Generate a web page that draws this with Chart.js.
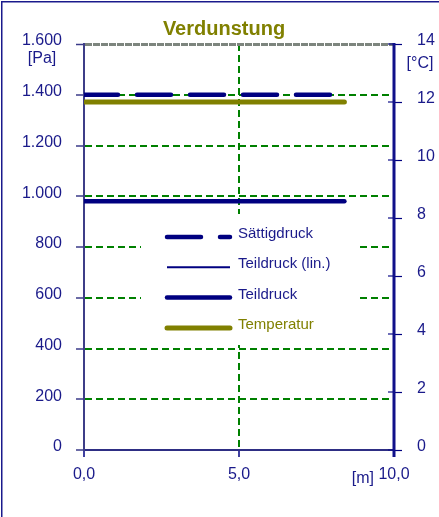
<!DOCTYPE html>
<html>
<head>
<meta charset="utf-8">
<script src="https://cdn.jsdelivr.net/npm/chart.js@4/dist/chart.umd.min.js"></script>
<style>
  html, body { margin: 0; padding: 0; background: #ffffff; }
  #wrap { position: relative; width: 439px; height: 517px; }
</style>
</head>
<body>
<div id="wrap"><canvas id="c" width="439" height="517"></canvas></div>
<script>
// Distance along the wall [m]
const positions = [0, 8.4];
// Pressures [Pa]
const saturationPressure = [1400, 1400];
const partialPressureLin = [980, 980];
const partialPressure = [980, 980];
// Temperature [°C]
const temperature = [12, 12];

const seriesNames = ['Sättigdruck', 'Teildruck (lin.)', 'Teildruck', 'Temperatur'];
const pressureTickLabels = ['0', '200', '400', '600', '800', '1.000', '1.200', '1.400', '1.600'];
const temperatureTickLabels = ['0', '2', '4', '6', '8', '10', '12', '14'];
const distanceTickLabels = ['0,0', '5,0', '10,0'];
const chartTitle = 'Verdunstung';
const unitLabels = { pressure: '[Pa]', temperature: '[°C]', distance: '[m]' };

const NAVY = '#000080';
const NAVY_TEXT = '#1a1a8a';
const OLIVE = '#808000';
const GREEN = '#008000';
const FONT = "'Liberation Sans', Arial, sans-serif";

const toPoints = (xs, ys) => xs.map((x, i) => ({ x: x, y: ys[i] }));

const datasets = [
  { label: seriesNames[0], data: toPoints(positions, saturationPressure), yAxisID: 'y',
    borderColor: NAVY, borderWidth: 4.5, borderDash: [34, 19], borderCapStyle: 'round' },
  { label: seriesNames[1], data: toPoints(positions, partialPressureLin), yAxisID: 'y',
    borderColor: NAVY, borderWidth: 2 },
  { label: seriesNames[2], data: toPoints(positions, partialPressure), yAxisID: 'y',
    borderColor: NAVY, borderWidth: 4.5, borderCapStyle: 'round' },
  { label: seriesNames[3], data: toPoints(positions, temperature), yAxisID: 'y2',
    borderColor: OLIVE, borderWidth: 5, borderCapStyle: 'round', legendText: OLIVE }
].map(d => Object.assign({ pointRadius: 0, fill: false, tension: 0 }, d));

// Outer frame, right axis line, unit captions, inner tick marks and the legend box
const decorations = {
  id: 'decorations',
  beforeDraw(chart) {
    const ctx = chart.ctx;
    ctx.save();
    ctx.fillStyle = '#1a1a8c';
    ctx.fillRect(1, 1, 1.5, chart.height);
    ctx.fillRect(1, 1, chart.width, 1.5);
    ctx.restore();
  },
  afterDraw(chart) {
    const ctx = chart.ctx;
    const { x, y, y2 } = chart.scales;
    const area = chart.chartArea;
    ctx.save();
    ctx.setLineDash([]);

    // right axis line with ticks reaching into the plot
    const px = Math.round(area.right);
    ctx.fillStyle = '#10108a';
    ctx.fillRect(px - 1.5, area.top - 1, 3, area.bottom - area.top + 8);
    y2.ticks.forEach(t => {
      const py = Math.round(y2.getPixelForValue(t.value));
      ctx.fillRect(px - 6, py - 0.6, 6, 1.2);
    });

    // unit captions
    ctx.fillStyle = NAVY_TEXT;
    ctx.font = '16px ' + FONT;
    ctx.textBaseline = 'middle';
    ctx.textAlign = 'center';
    ctx.fillText(unitLabels.pressure, 42, y.getPixelForValue(1600) + 15);
    ctx.fillText(unitLabels.temperature, 420, y2.getPixelForValue(14) + 20);
    ctx.textAlign = 'right';
    ctx.fillText(unitLabels.distance, x.getPixelForValue(10) - 20, area.bottom + 29);

    // legend
    const bx = area.left + 57, by = area.top + 170, bw = 216, bh = 131;
    ctx.fillStyle = '#ffffff';
    ctx.fillRect(bx, by, bw, bh);
    const lx1 = area.left + 83, lx2 = area.left + 146, tx = area.left + 154;
    chart.data.datasets.forEach((ds, i) => {
      const ly = area.top + 193 + i * 30.3;
      ctx.save();
      ctx.strokeStyle = ds.borderColor;
      ctx.lineWidth = ds.borderWidth;
      ctx.lineCap = ds.borderCapStyle || 'butt';
      ctx.setLineDash(ds.borderDash || []);
      ctx.beginPath();
      ctx.moveTo(lx1, ly);
      ctx.lineTo(lx2, ly);
      ctx.stroke();
      ctx.restore();
      ctx.fillStyle = ds.legendText || NAVY_TEXT;
      ctx.font = '15px ' + FONT;
      ctx.textAlign = 'left';
      ctx.textBaseline = 'middle';
      ctx.fillText(ds.label, tx, ly - 3);
    });
    ctx.restore();
  }
};

new Chart(document.getElementById('c'), {
  type: 'line',
  data: { datasets: datasets },
  plugins: [decorations],
  options: {
    responsive: false,
    animation: false,
    layout: { padding: { left: 9, top: 0, right: 0, bottom: 0 } },
    plugins: {
      legend: { display: false },
      tooltip: { enabled: false },
      title: {
        display: true,
        text: chartTitle,
        color: OLIVE,
        font: { family: FONT, size: 20, weight: 'bold' },
        padding: { top: 17, bottom: 3 }
      }
    },
    scales: {
      x: {
        type: 'linear',
        min: 0, max: 10,
        afterFit(s) { s.height = 67; },
        ticks: {
          stepSize: 5,
          color: NAVY_TEXT,
          font: { family: FONT, size: 16 },
          padding: 8,
          maxRotation: 0,
          callback: (v, i) => distanceTickLabels[i]
        },
        grid: {
          color: c => (c.tick && c.tick.value === 5) ? GREEN : 'rgba(0,0,0,0)',
          lineWidth: 2,
          tickColor: NAVY,
          tickLength: 7,
          tickWidth: 1.5
        },
        border: { color: '#2e2e84', width: 2, dash: [7, 4] }
      },
      y: {
        type: 'linear',
        position: 'left',
        min: 0, max: 1600,
        afterFit(s) { s.width = 75; },
        ticks: {
          stepSize: 200,
          color: NAVY_TEXT,
          font: { family: FONT, size: 16 },
          padding: 14,
          labelOffset: -3,
          callback: (v, i) => pressureTickLabels[i]
        },
        grid: {
          color: c => {
            if (!c.tick) return GREEN;
            if (c.tick.value === 0) return 'rgba(0,0,0,0)';
            if (c.tick.value === 1600) return '#7d857e';
            return GREEN;
          },
          lineWidth: c => (c.tick && c.tick.value === 1600) ? 3 : 2,
          tickColor: '#3a3a88',
          tickLength: 8,
          tickWidth: 1.5
        },
        border: {
          color: '#3e3e88',
          width: 2,
          dash: c => (c.tick && c.tick.value === 1600) ? [7, 1] : [7, 4]
        }
      },
      y2: {
        type: 'linear',
        position: 'right',
        min: 0, max: 14,
        afterFit(s) { s.width = 45; },
        ticks: {
          stepSize: 2,
          color: NAVY_TEXT,
          font: { family: FONT, size: 16 },
          padding: 15,
          labelOffset: -3,
          callback: (v, i) => temperatureTickLabels[i]
        },
        grid: {
          drawOnChartArea: false,
          tickColor: NAVY,
          tickLength: 8,
          tickWidth: 1.2
        },
        border: { display: false }
      }
    }
  }
});
</script>
</body>
</html>
